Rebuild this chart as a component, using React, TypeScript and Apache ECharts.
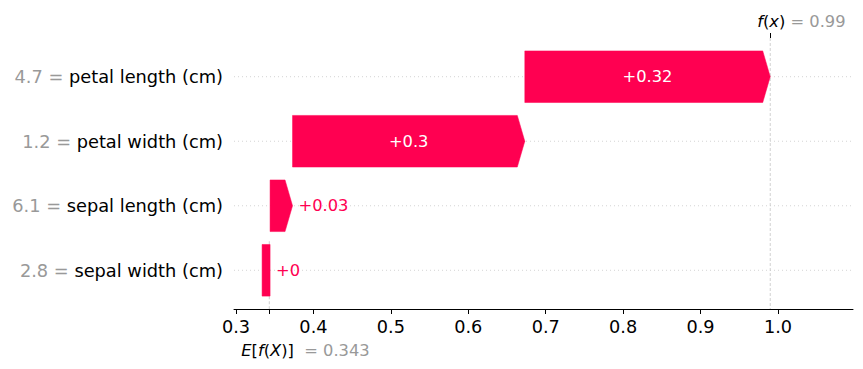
import React, { useEffect, useRef } from "react";
import * as echarts from "echarts";

const featureNames = ["petal length (cm)", "petal width (cm)", "sepal length (cm)", "sepal width (cm)"];
const featureValues = ["4.7", "1.2", "6.1", "2.8"];
const shapValues = [0.317, 0.3, 0.029, 0.001];
const baseValue = 0.343;
const fxValue = 0.99;
const xTicks = [0.3, 0.4, 0.5, 0.6, 0.7, 0.8, 0.9, 1.0];

const RED = "#ff0051";
const GRAY = "#999999";
const FONT = "DejaVu Sans";

function fmt(v: number): string {
  let s = v.toFixed(2);
  if (s.indexOf(".") >= 0) s = s.replace(/0+$/, "").replace(/\.$/, "");
  return (v >= 0 ? "+" : "") + s;
}

export default function App() {
  const ref = useRef<HTMLDivElement>(null);
  useEffect(() => {
    if (!ref.current) return;
    const chart = echarts.init(ref.current, undefined, { renderer: "svg" });

    const n = featureNames.length;
    const bars: number[][] = new Array(n);
    let acc = baseValue;
    for (let i = n - 1; i >= 0; i--) {
      const s = acc;
      const e = acc + shapValues[i];
      bars[i] = [s, e, i];
      acc = e;
    }

    const option: any = {
      animation: false,
      grid: { left: 234, right: 10, top: 38, bottom: 60 },
      xAxis: [
        {
          type: "value",
          position: "bottom",
          min: 0.2974,
          max: 1.0969,
          axisLine: { show: true, onZero: false, lineStyle: { color: "#000", width: 1 } },
          axisTick: {
            show: true,
            customValues: [...xTicks, baseValue],
            length: 5,
            lineStyle: { color: "#000", width: 1 },
          },
          axisLabel: {
            customValues: xTicks,
            formatter: (v: number) => v.toFixed(1),
            fontSize: 17.7,
            color: "#000",
            fontFamily: FONT,
            margin: 9,
          },
          splitLine: { show: false },
        },
        {
          type: "value",
          position: "top",
          min: 0.2974,
          max: 1.0969,
          axisLine: { show: false, onZero: false },
          axisTick: {
            show: true,
            customValues: [fxValue],
            length: 5,
            lineStyle: { color: "#000", width: 1 },
          },
          axisLabel: { show: false },
          splitLine: { show: false },
        },
      ],
      yAxis: {
        type: "value",
        inverse: true,
        min: -0.6,
        max: n - 1 + 0.6,
        show: false,
      },
      series: [
        {
          type: "custom",
          z: 1,
          clip: false,
          silent: true,
          data: [[baseValue, fxValue]],
          encode: { x: [0, 1] },
          renderItem: (params: any, api: any) => {
            const cs = params.coordSys;
            const children: any[] = [];
            for (let r = 0; r < n; r++) {
              const y = api.coord([baseValue, r])[1];
              children.push({
                type: "line",
                shape: { x1: cs.x, y1: y, x2: cs.x + cs.width, y2: y },
                style: { stroke: "#d4d4d4", lineWidth: 1, lineDash: [1, 3] },
              });
            }
            const fxPx = api.coord([api.value(1), 0])[0];
            const basePx = api.coord([api.value(0), 0])[0];
            children.push({
              type: "line",
              shape: { x1: fxPx, y1: cs.y, x2: fxPx, y2: cs.y + cs.height },
              style: { stroke: "#c4c4c4", lineWidth: 0.8, lineDash: [3, 2] },
            });
            children.push({
              type: "line",
              shape: { x1: basePx, y1: cs.y + cs.height * (1 - 1 / n), x2: basePx, y2: cs.y + cs.height },
              style: { stroke: "#c4c4c4", lineWidth: 0.8, lineDash: [3, 2] },
            });
            children.push({
              type: "text",
              x: fxPx - 13,
              y: cs.y - 17,
              style: {
                text: "{i|f}{n|(}{i|x}{n|)}{g| = " + fxValue + "}",
                align: "left",
                verticalAlign: "middle",
                rich: {
                  i: { fontSize: 16.3, fontFamily: FONT, fontStyle: "italic", fill: "#000" },
                  n: { fontSize: 16.3, fontFamily: FONT, fill: "#000" },
                  g: { fontSize: 16.3, fontFamily: FONT, fill: GRAY },
                },
              },
            });
            children.push({
              type: "text",
              x: basePx - 28,
              y: cs.y + cs.height + 41,
              style: {
                text: "{i|E}{n|[}{i|f}{n|(}{i|X}{n|)]}{g|  = " + baseValue + "}",
                align: "left",
                verticalAlign: "middle",
                rich: {
                  i: { fontSize: 16.3, fontFamily: FONT, fontStyle: "italic", fill: "#000" },
                  n: { fontSize: 16.3, fontFamily: FONT, fill: "#000" },
                  g: { fontSize: 16.3, fontFamily: FONT, fill: GRAY },
                },
              },
            });
            return { type: "group", children };
          },
        },
        {
          type: "custom",
          z: 2,
          clip: false,
          silent: true,
          data: bars,
          encode: { x: [0, 1], y: 2 },
          renderItem: (params: any, api: any) => {
            const cs = params.coordSys;
            const i = params.dataIndex;
            const s = api.value(0);
            const e = api.value(1);
            const row = api.value(2);
            const p0 = api.coord([s, row]);
            const p1 = api.coord([e, row]);
            const yTop = api.coord([s, row - 0.4])[1];
            const yBot = api.coord([s, row + 0.4])[1];
            const cy = p0[1];
            const x0 = p0[0];
            const x1 = p1[0];
            const hl = 7.5;
            let points: number[][];
            if (x1 - x0 > hl) {
              points = [[x0, yTop], [x1 - hl, yTop], [x1, cy], [x1 - hl, yBot], [x0, yBot]];
            } else {
              points = [[x1 - 8, yTop], [x1, yTop], [x1, yBot], [x1 - 8, yBot]];
            }
            const label = fmt(shapValues[i]);
            const estW = label.length * 0.62 * 16.3;
            const inside = x1 - x0 > estW + 20;
            const children: any[] = [
              { type: "polygon", shape: { points }, style: { fill: RED, stroke: RED, lineWidth: 0.5 } },
              {
                type: "text",
                x: inside ? (x0 + x1) / 2 : x1 + 6,
                y: cy,
                style: {
                  text: label,
                  fill: inside ? "#fff" : RED,
                  fontSize: 16.3,
                  fontFamily: FONT,
                  align: inside ? "center" : "left",
                  verticalAlign: "middle",
                },
              },
              {
                type: "text",
                x: cs.x - 11,
                y: cy,
                style: {
                  text: "{g|" + featureValues[i] + " = }{b|" + featureNames[i] + "}",
                  align: "right",
                  verticalAlign: "middle",
                  rich: {
                    g: { fontSize: 17.8, fontFamily: FONT, fill: GRAY },
                    b: { fontSize: 17.8, fontFamily: FONT, fill: "#000" },
                  },
                },
              },
            ];
            return { type: "group", children };
          },
        },
      ],
    };
    chart.setOption(option);
    return () => chart.dispose();
  }, []);
  return (
    <div
      ref={ref}
      style={{ position: "fixed", left: 0, top: 0, width: 863, height: 369, background: "#fff" }}
    />
  );
}
